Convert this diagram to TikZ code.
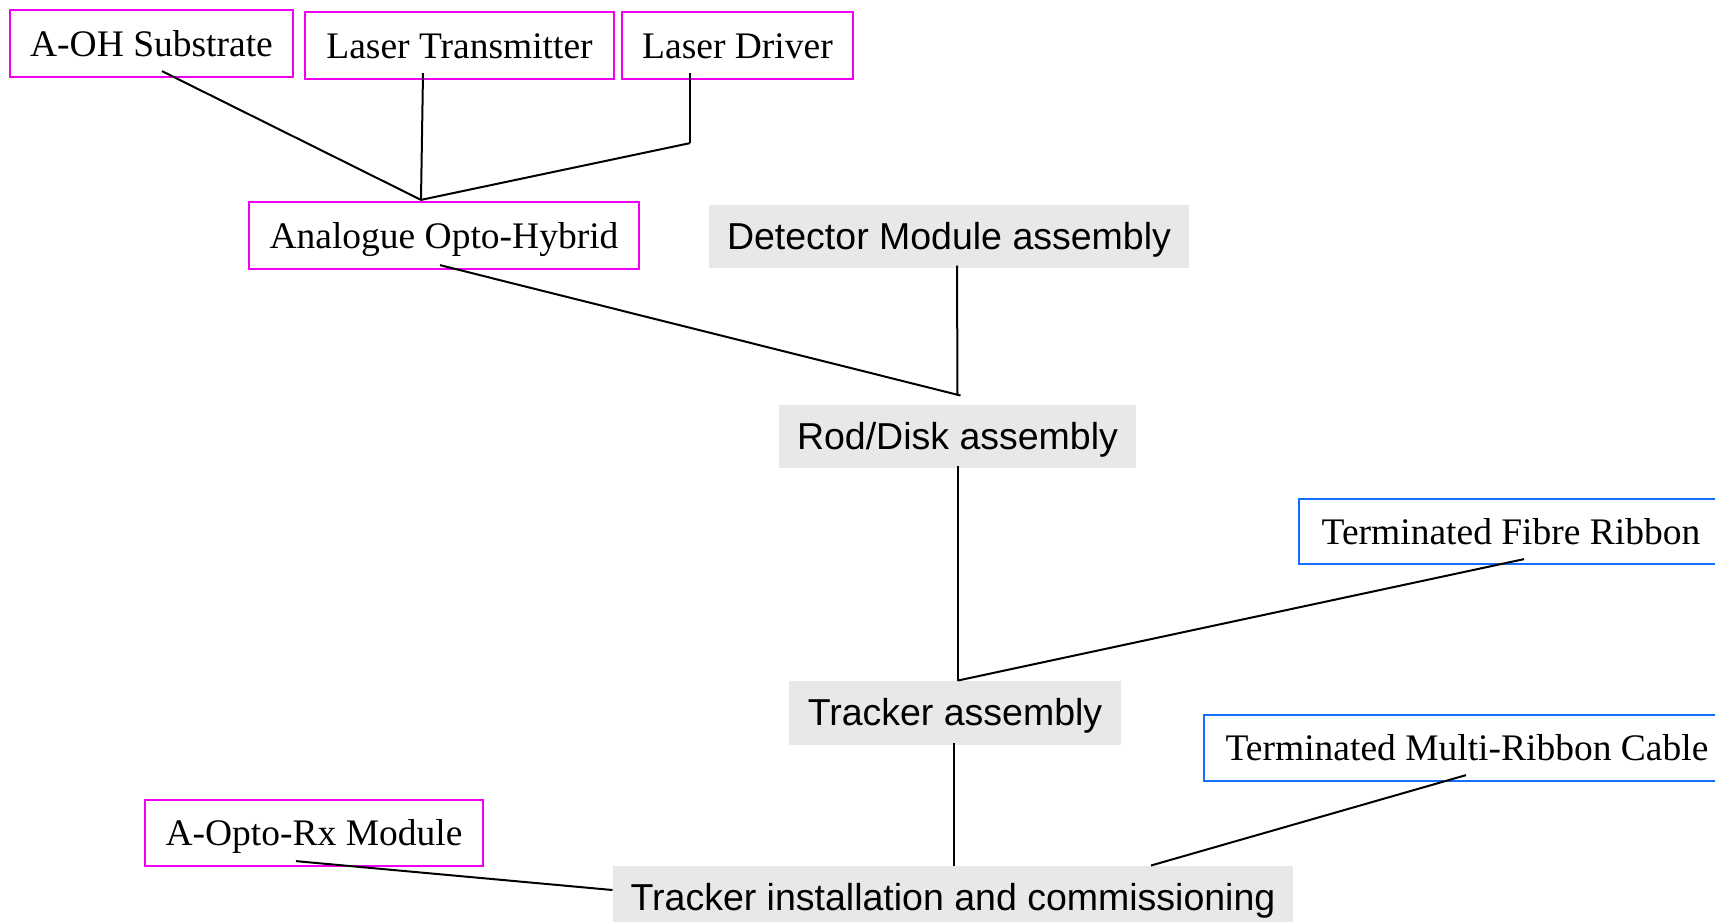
\documentclass[tikz,border=0pt]{standalone}
\usepackage{fontspec}
\setmainfont{Liberation Serif}
\setsansfont{Liberation Sans}
\usetikzlibrary{calc}
\definecolor{partmag}{RGB}{240,0,240}
\definecolor{cableblue}{RGB}{20,110,255}
\definecolor{stagegray}{RGB}{232,232,232}

\begin{document}
\begin{tikzpicture}[x=0.4pt, y=-0.4pt, font=\fontsize{15}{18}\selectfont,
  every node/.style = {text height=12pt, text depth=2pt},
  part/.style = {draw=partmag, line width=0.9pt, inner sep=0pt},
  cable/.style = {draw=cableblue, line width=0.9pt, inner sep=0pt},
  stage/.style = {fill=stagegray, inner sep=0pt, font=\fontsize{15}{18}\selectfont\sffamily},
  every edge/.style = {draw, line width=0.8pt}]
\useasboundingbox (0,0) rectangle (1715,921);
\clip (0,0) rectangle (1715,921);

% components
\node[part, minimum width=113.2pt, minimum height=26.8pt] (aoh_sub) at (151.5,43.5) {A-OH Substrate};
\node[part, minimum width=123.6pt, minimum height=26.8pt] (laser_tx) at (459.5,45.5) {Laser Transmitter};
\node[part, minimum width=92.4pt, minimum height=26.8pt] (laser_drv) at (737.5,45.5) {Laser Driver};
\node[part, minimum width=156pt, minimum height=26.8pt] (aoh) at (444,235.5) {Analogue Opto-Hybrid};
\node[part, minimum width=135.2pt, minimum height=26.4pt] (rx) at (314,833) {A-Opto-Rx Module};
\node[cable, minimum width=169.6pt, minimum height=26pt] (fibre) at (1511,531.5) {Terminated Fibre Ribbon};
\node[cable, minimum width=210.4pt, minimum height=26.4pt] (mrc) at (1467,748) {Terminated Multi-Ribbon Cable};

% assembly stages
\node[stage, minimum width=192pt, minimum height=25.2pt] (det_mod) at (949,236.5) {Detector Module assembly};
\node[stage, minimum width=142.8pt, minimum height=25.2pt] (rod_disk) at (957.5,436.5) {Rod/Disk assembly};
\node[stage, minimum width=132.8pt, minimum height=25.6pt] (trk) at (955,713) {Tracker assembly};
\node[stage, minimum width=272pt, minimum height=25.2pt] (inst) at (953,897.5) {Tracker installation and commissioning};

\coordinate (hyb_top) at ($(aoh.north)+(-23,-1)$);
\coordinate (drv_bend) at ($(laser_drv.south)+(-47.5,63)$);
\coordinate (rod_top) at ($(rod_disk.north)+(0,-9)$);
\coordinate (trk_top) at ($(trk.north)+(3,0)$);

\path ($(aoh_sub.south)+(10.5,-7)$) edge (hyb_top)
    ($(laser_tx.south)+(-36.5,-7)$) edge (hyb_top)
    ($(laser_drv.south)+(-47.5,-7)$) edge (drv_bend)
    (drv_bend) edge (hyb_top)
    ($(aoh.south)+(-4,-5)$) edge ($(rod_top)+(3,0)$)
    ($(det_mod.south)+(8,-3)$) edge (rod_top)
    ($(rod_disk.south)+(0.5,-3)$) edge (trk_top)
    ($(fibre.south)+(13,-6)$) edge (trk_top)
    ($(trk.south)+(-1,-3)$) edge ($(inst.north)+(1,0)$)
    ($(mrc.south)+(-1,-7)$) edge ($(inst.north)+(198,0)$)
    ($(rx.south)+(-18,-6)$) edge ($(inst.west)+(0,-7.5)$);
\end{tikzpicture}
\end{document}
